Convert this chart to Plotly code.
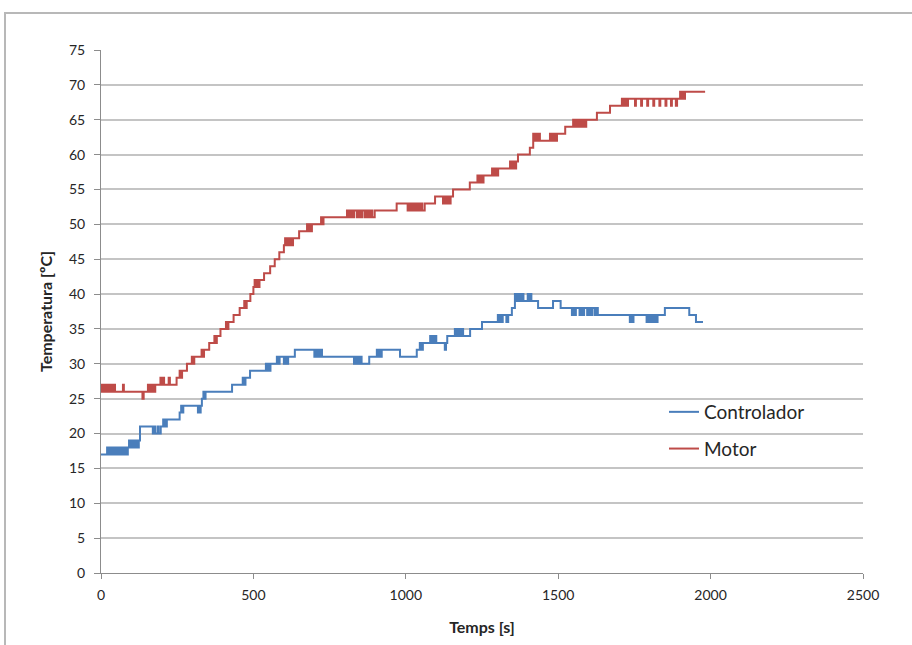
import plotly.graph_objects as go

# Controlador (blue) step series: time [s] and temperature [ºC]
ctrl_t = [0, 20, 24, 28, 31, 35, 38, 42, 45, 49, 52, 56, 60, 63, 67, 71, 75, 79, 84, 88,
          92, 96, 100, 104, 108, 112, 116, 120, 124, 128,
          170, 175, 178, 186, 189, 196, 204, 207, 210, 213, 216,
          258, 263, 266, 270, 318, 321, 324, 327, 331, 336, 340, 343,
          430, 465, 470, 474, 489, 541, 545, 549, 552, 556,
          577, 582, 586, 600, 605, 610, 614, 636,
          700, 704, 708, 712, 716, 720, 725,
          830, 834, 838, 842, 846, 850, 855, 880,
          905, 909, 913, 917, 921, 981,
          1036, 1046, 1052, 1056, 1080, 1084, 1088, 1092, 1096, 1100,
          1128, 1132, 1136, 1161, 1165, 1169, 1173, 1177, 1181, 1185, 1188,
          1211, 1250, 1302, 1306, 1310, 1314, 1318, 1330, 1336, 1348,
          1358, 1362, 1366, 1370, 1374, 1378, 1382, 1386, 1400, 1404, 1408, 1412,
          1434, 1483, 1508, 1545, 1549, 1553, 1558, 1570, 1574, 1580, 1585,
          1595, 1600, 1606, 1612, 1620, 1625, 1630,
          1735, 1739, 1743, 1747, 1790, 1794, 1798, 1802, 1806, 1810, 1814, 1818, 1822, 1826,
          1850, 1930, 1952, 1975]
ctrl_v = [17, 18, 17, 18, 17, 18, 17, 18, 17, 18, 17, 18, 17, 18, 17, 18, 17, 18, 17, 18,
          19, 18, 19, 18, 19, 18, 19, 18, 19, 21,
          20, 21, 20, 21, 20, 21, 22, 21, 22, 21, 22,
          23, 24, 23, 24, 23, 24, 23, 24, 25, 26, 25, 26,
          27, 28, 27, 28, 29, 30, 29, 30, 29, 30,
          31, 30, 31, 30, 31, 30, 31, 32,
          31, 32, 31, 32, 31, 32, 31,
          30, 31, 30, 31, 30, 31, 30, 31,
          32, 31, 32, 31, 32, 31,
          32, 33, 32, 33, 34, 33, 34, 33, 34, 33,
          32, 33, 34, 35, 34, 35, 34, 35, 34, 35, 34,
          35, 36, 37, 36, 37, 36, 37, 36, 37, 38,
          40, 39, 40, 39, 40, 39, 40, 39, 40, 39, 40, 39,
          38, 39, 38, 37, 38, 37, 38, 37, 38, 37, 38,
          37, 38, 37, 38, 37, 38, 37,
          36, 37, 36, 37, 36, 37, 36, 37, 36, 37, 36, 37, 36, 37,
          38, 37, 36, 36]

# Motor (red) step series: time [s] and temperature [ºC]
motor_t = [0, 3, 6, 9, 12, 15, 18, 21, 24, 27, 30, 33, 36, 39, 42, 46, 72, 75, 136, 140,
           154, 158, 162, 166, 170, 174, 178, 195, 199, 203, 207, 222, 226,
           248, 258, 262, 266, 282, 298, 302, 306, 330, 334, 338, 355,
           372, 376, 380, 392, 410, 414, 418, 435, 455, 470, 474, 478, 490,
           500, 504, 508, 512, 516, 520, 535, 555, 570, 585,
           600, 604, 608, 612, 616, 620, 625, 630, 650,
           676, 680, 684, 688, 692, 722, 726, 730,
           807, 813, 819, 825, 831, 840, 846, 852, 858, 866, 872, 878, 884, 890, 898, 905,
           970, 1006, 1012, 1018, 1024, 1030, 1036, 1042, 1048, 1054, 1062,
           1096, 1122, 1127, 1132, 1137, 1142, 1147, 1155,
           1210, 1235, 1240, 1245, 1250, 1255, 1283, 1288, 1293, 1298, 1303, 1309,
           1342, 1347, 1352, 1357, 1362, 1368, 1407, 1418, 1422, 1426, 1430, 1434, 1440,
           1473, 1478, 1484, 1490, 1496, 1523, 1549, 1554, 1559, 1564, 1569, 1574, 1580, 1586, 1592,
           1627, 1670, 1709, 1714, 1719, 1724, 1729, 1736,
           1752, 1755, 1772, 1775, 1792, 1795, 1812, 1815, 1832, 1835, 1852, 1855, 1870, 1873,
           1886, 1890, 1900, 1904, 1908, 1912, 1916, 1982]
motor_v = [27, 26, 27, 26, 27, 26, 27, 26, 27, 26, 27, 26, 27, 26, 27, 26, 27, 26, 25, 26,
           27, 26, 27, 26, 27, 26, 27, 28, 27, 28, 27, 28, 27,
           28, 29, 28, 29, 30, 31, 30, 31, 32, 31, 32, 33,
           34, 33, 34, 35, 36, 35, 36, 37, 38, 39, 38, 39, 40,
           41, 42, 41, 42, 41, 42, 43, 44, 45, 46,
           47, 48, 47, 48, 47, 48, 47, 48, 49,
           50, 49, 50, 49, 50, 51, 50, 51,
           52, 51, 52, 51, 52, 51, 52, 51, 52, 51, 52, 51, 52, 51, 52, 52,
           53, 52, 53, 52, 53, 52, 53, 52, 53, 52, 53,
           54, 53, 54, 53, 54, 53, 54, 55,
           56, 57, 56, 57, 56, 57, 58, 57, 58, 57, 58, 58,
           59, 58, 59, 58, 59, 60, 61, 63, 62, 63, 62, 63, 62,
           63, 62, 63, 62, 63, 64, 65, 64, 65, 64, 65, 64, 65, 64, 65,
           66, 67, 68, 67, 68, 67, 68, 68,
           67, 68, 67, 68, 67, 68, 67, 68, 67, 68, 67, 68, 67, 68,
           67, 68, 69, 68, 69, 68, 69, 69]

series_names = ["Controlador", "Motor"]
series_colors = ["#4A7EBB", "#BE4B48"]
x_ticks = [0, 500, 1000, 1500, 2000, 2500]
y_ticks = list(range(0, 80, 5))

font_family = "Lato, 'Open Sans', sans-serif"

fig = go.Figure()
for name, xs, ys, col, grp in [
    (series_names[0], ctrl_t, ctrl_v, series_colors[0], "g1"),
    (series_names[1], motor_t, motor_v, series_colors[1], "g2"),
]:
    fig.add_trace(go.Scatter(
        x=xs, y=ys, mode="lines", name=name, legendgroup=grp,
        line=dict(color=col, width=2, shape="hv"),
    ))

fig.update_layout(
    width=912, height=645,
    margin=dict(l=101, r=49, t=50, b=72),
    paper_bgcolor="white", plot_bgcolor="white",
    font=dict(family=font_family, color="#262626", size=14),
    showlegend=True,
    legend=dict(
        x=(664 - 101) / 762, y=(573 - 393) / 523, xanchor="left", yanchor="top",
        bgcolor="rgba(0,0,0,0)", font=dict(size=19, color="#262626"),
        tracegroupgap=9, itemwidth=30,
    ),
    xaxis=dict(
        range=[0, 2500], tickvals=x_ticks, showgrid=False, zeroline=False,
        showline=True, linecolor="#8c8c8c", linewidth=1,
        ticks="outside", ticklen=5, tickcolor="#8c8c8c",
        tickfont=dict(size=14), ticklabelstandoff=4,
        title=dict(text="<b>Temps [s]</b>", font=dict(size=16), standoff=20),
    ),
    yaxis=dict(
        range=[0, 75], tickvals=y_ticks, showgrid=True, gridcolor="#c4c4c4", gridwidth=2,
        zeroline=False, showline=True, linecolor="#8c8c8c", linewidth=1,
        ticks="outside", ticklen=6, tickcolor="#8c8c8c",
        tickfont=dict(size=14), ticklabelstandoff=6,
        title=dict(text="<b>Temperatura [ºC]</b>", font=dict(size=16), standoff=12),
    ),
    shapes=[dict(
        type="rect", xref="paper", yref="paper",
        x0=(5 - 101) / 762, x1=1.2, y0=-0.3, y1=(573 - 13) / 523,
        line=dict(color="#b8b8b8", width=2), fillcolor="rgba(0,0,0,0)", layer="below",
    )],
)

fig.write_html("out.html")
